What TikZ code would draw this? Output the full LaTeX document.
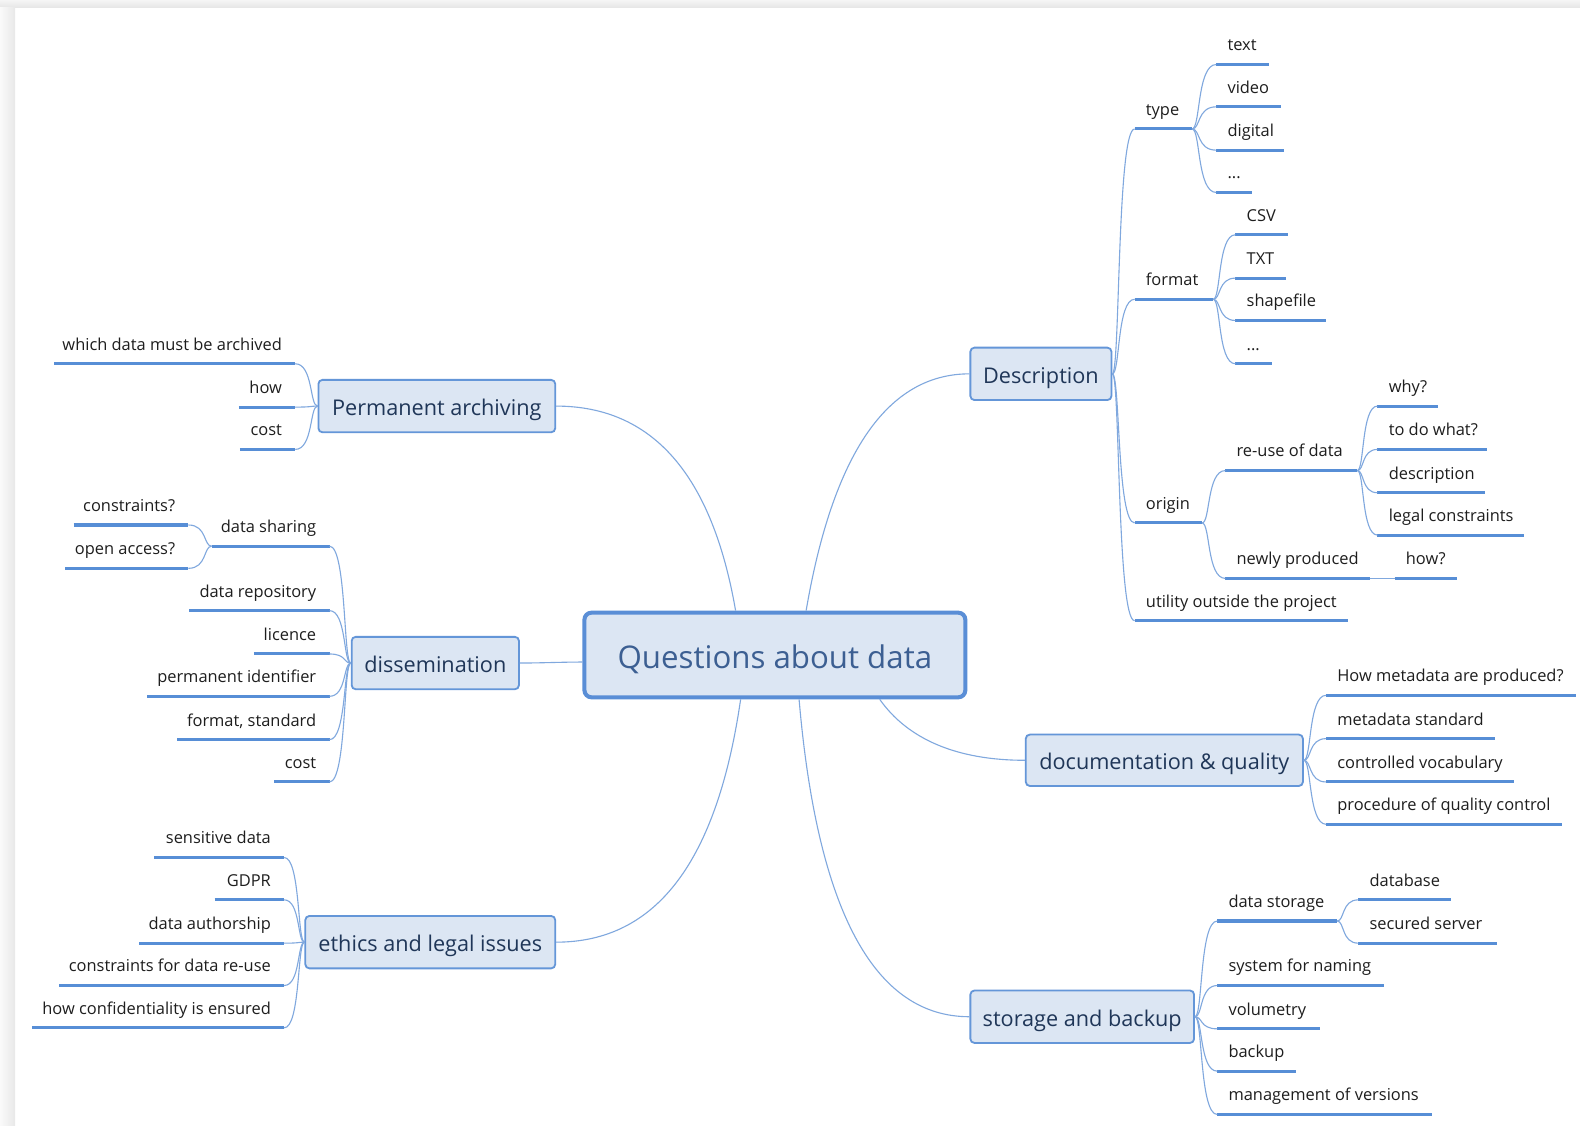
\documentclass[tikz,border=0pt]{standalone}
\usepackage{fontspec}
\setmainfont{Open Sans}
\usetikzlibrary{calc}

\definecolor{linkblue}{HTML}{80A8DE}
\definecolor{barblue}{HTML}{578ED6}
\definecolor{boxfill}{HTML}{DCE6F3}
\definecolor{boxline}{HTML}{6496D8}
\definecolor{rootline}{HTML}{5A8ED6}
\definecolor{boxtext}{HTML}{1F3658}
\definecolor{roottext}{HTML}{3C5F92}
\definecolor{leaftext}{HTML}{1E1E1E}

\tikzset{
  bar/.style={draw=barblue, line width=3pt},
  link/.style={draw=linkblue, line width=1.1pt},
  leaf/.style={font=\fontsize{16.3}{19}\selectfont, text=leaftext, inner sep=0pt},
  topic/.style={draw=boxline, line width=1.8pt, fill=boxfill, rounded corners=4pt,
    text=boxtext, font=\fontsize{21.5}{25}\selectfont, inner sep=0pt,
    text height=19pt, text depth=0pt},
  rootbox/.style={draw=rootline, line width=4pt, fill=boxfill, rounded corners=7pt,
    text=roottext, font=\fontsize{31}{36}\selectfont, inner sep=0pt,
    text height=26pt, text depth=0pt}
}

% leaf on the right of its parent: name, left x, right x, underline y, label
\newcommand\mmleafR[5]{%
  \coordinate (#1-l) at (#2,#4);
  \coordinate (#1-r) at (#3,#4);
  \draw[bar] (#1-l) -- (#1-r);
  \node[leaf, anchor=base west] (#1) at ($(#1-l)+(11,-13.5)$) {#5};
}
% leaf on the left of its parent
\newcommand\mmleafL[5]{%
  \coordinate (#1-l) at (#2,#4);
  \coordinate (#1-r) at (#3,#4);
  \draw[bar] (#1-l) -- (#1-r);
  \node[leaf, anchor=base east] (#1) at ($(#1-r)+(-13,-13.5)$) {#5};
}
% curved connector from a parent point to a child point
\newcommand\mmlink[2]{%
  \draw[link] let \p1=(#1), \p2=(#2) in
    (\p1) .. controls ({\x1+0.35*(\x2-\x1)},\y1) and ({\x1+0.2*(\x2-\x1)},\y2) .. (\p2);
}

\begin{document}
\begin{tikzpicture}[x=1pt,y=-1pt]
% page and its shadow
\useasboundingbox (0,0) rectangle (1568,1117);
\fill[white] (0,0) rectangle (1568,1117);
\shade[top color=black!4, bottom color=black!10] (0,0) rectangle (1568,7.6);
\shade[left color=black!2, right color=black!9] (0,7.6) rectangle (14.9,1117);

% central topic and main branches
\node[rootbox, minimum width=378, minimum height=84] (root) at (769,650) {Questions about data};

\node[topic, minimum width=140, minimum height=52] (desc) at (1033,371) {Description};
\node[topic, minimum width=235, minimum height=52] (perm) at (433.5,403) {Permanent archiving};
\node[topic, minimum width=166, minimum height=52] (diss) at (432,658) {dissemination};
\node[topic, minimum width=248, minimum height=52] (ethics) at (427,935) {ethics and legal issues};
\node[topic, minimum width=275, minimum height=51] (doc) at (1155.5,754.5) {documentation \& quality};
\node[topic, minimum width=222, minimum height=52] (stor) at (1074,1009) {storage and backup};

\coordinate (rootdiss) at ($(root.west)+(0,7)$);
\draw[link] (800,0 |- root.north) .. controls (826.7,450) and (880.7,371) .. (desc.west);
\draw[link] (730,0 |- root.north) .. controls (706.7,471.3) and (647.7,403) .. (perm.east);
\draw[link] (rootdiss) .. controls +(-20,0) and +(20,0) .. (diss.east);
\draw[link] (735,0 |- root.south) .. controls (711.7,854) and (652,935) .. (ethics.east);
\draw[link] (793,0 |- root.south) .. controls (811,903.3) and (867.3,1009) .. (stor.west);
\draw[link] (873,0 |- root.south) .. controls (901,733.7) and (949.7,754.5) .. (doc.west);

% Description
\mmleafR{type}{1126}{1183}{128}{type}
\mmleafR{ttext}{1207}{1259}{64}{text}
\mmleafR{tvideo}{1207}{1271}{106}{video}
\mmleafR{tdigital}{1207}{1274}{149}{digital}
\mmleafR{tetc}{1207}{1242}{191}{...}
\mmleafR{format}{1126}{1204}{297}{format}
\mmleafR{fcsv}{1226}{1278}{233}{CSV}
\mmleafR{ftxt}{1226}{1276}{276}{TXT}
\mmleafR{fshp}{1226}{1316}{318}{shapefile}
\mmleafR{fetc}{1226}{1262}{361}{...}
\mmleafR{origin}{1126}{1193}{519}{origin}
\mmleafR{reuse}{1216}{1347}{467}{re-use of data}
\mmleafR{why}{1367}{1427}{403}{why?}
\mmleafR{todo}{1367}{1476}{446}{to do what?}
\mmleafR{descr}{1367}{1474}{489}{description}
\mmleafR{legal}{1367}{1512}{531}{legal constraints}
\mmleafR{newly}{1216}{1360}{574}{newly produced}
\mmleafR{howq}{1384}{1446}{574}{how?}
\mmleafR{utility}{1126}{1338}{616}{utility outside the project}

\mmlink{desc.east}{type-l}
\mmlink{desc.east}{format-l}
\mmlink{desc.east}{origin-l}
\mmlink{desc.east}{utility-l}
\mmlink{type-r}{ttext-l}
\mmlink{type-r}{tvideo-l}
\mmlink{type-r}{tdigital-l}
\mmlink{type-r}{tetc-l}
\mmlink{format-r}{fcsv-l}
\mmlink{format-r}{ftxt-l}
\mmlink{format-r}{fshp-l}
\mmlink{format-r}{fetc-l}
\mmlink{origin-r}{reuse-l}
\mmlink{origin-r}{newly-l}
\mmlink{reuse-r}{why-l}
\mmlink{reuse-r}{todo-l}
\mmlink{reuse-r}{descr-l}
\mmlink{reuse-r}{legal-l}
\mmlink{newly-r}{howq-l}

% documentation & quality
\mmleafR{metahow}{1316}{1564}{690}{How metadata are produced?}
\mmleafR{metastd}{1316}{1484}{733}{metadata standard}
\mmleafR{vocab}{1316}{1502}{776}{controlled vocabulary}
\mmleafR{qc}{1316}{1550}{818}{procedure of quality control}
\mmlink{doc.east}{metahow-l}
\mmlink{doc.east}{metastd-l}
\mmlink{doc.east}{vocab-l}
\mmlink{doc.east}{qc-l}

% storage and backup
\mmleafR{dstore}{1208}{1327}{914}{data storage}
\mmleafR{dbase}{1348}{1440}{893}{database}
\mmleafR{secsrv}{1348}{1486}{936}{secured server}
\mmleafR{naming}{1208}{1373}{978}{system for naming}
\mmleafR{volum}{1208}{1310}{1021}{volumetry}
\mmleafR{backup}{1208}{1286}{1063}{backup}
\mmleafR{versions}{1208}{1421}{1106}{management of versions}
\mmlink{stor.east}{dstore-l}
\mmlink{stor.east}{naming-l}
\mmlink{stor.east}{volum-l}
\mmlink{stor.east}{backup-l}
\mmlink{stor.east}{versions-l}
\mmlink{dstore-r}{dbase-l}
\mmlink{dstore-r}{secsrv-l}

% Permanent archiving
\mmleafL{archwhich}{54}{293}{361}{which data must be archived}
\mmleafL{archhow}{237}{293}{404}{how}
\mmleafL{archcost}{238}{293}{446}{cost}
\mmlink{perm.west}{archwhich-r}
\mmlink{perm.west}{archhow-r}
\mmlink{perm.west}{archcost-r}

% dissemination
\mmleafL{share}{210}{327}{542}{data sharing}
\mmleafL{constr}{73}{187}{521}{constraints?}
\mmleafL{openacc}{65}{187}{564}{open access?}
\mmleafL{repo}{188}{327}{606}{data repository}
\mmleafL{licence}{252}{327}{649}{licence}
\mmleafL{pid}{146}{327}{691}{permanent identifier}
\mmleafL{fmtstd}{176}{327}{734}{format, standard}
\mmleafL{dcost}{272}{327}{776}{cost}
\mmlink{diss.west}{share-r}
\mmlink{diss.west}{repo-r}
\mmlink{diss.west}{licence-r}
\mmlink{diss.west}{pid-r}
\mmlink{diss.west}{fmtstd-r}
\mmlink{diss.west}{dcost-r}
\mmlink{share-l}{constr-r}
\mmlink{share-l}{openacc-r}

% ethics and legal issues
\mmleafL{sensitive}{153}{282}{851}{sensitive data}
\mmleafL{gdpr}{213}{282}{893}{GDPR}
\mmleafL{author}{138}{282}{936}{data authorship}
\mmleafL{reusec}{59}{282}{978}{constraints for data re-use}
\mmleafL{conf}{32}{282}{1020}{how confidentiality is ensured}
\mmlink{ethics.west}{sensitive-r}
\mmlink{ethics.west}{gdpr-r}
\mmlink{ethics.west}{author-r}
\mmlink{ethics.west}{reusec-r}
\mmlink{ethics.west}{conf-r}
\end{tikzpicture}
\end{document}
